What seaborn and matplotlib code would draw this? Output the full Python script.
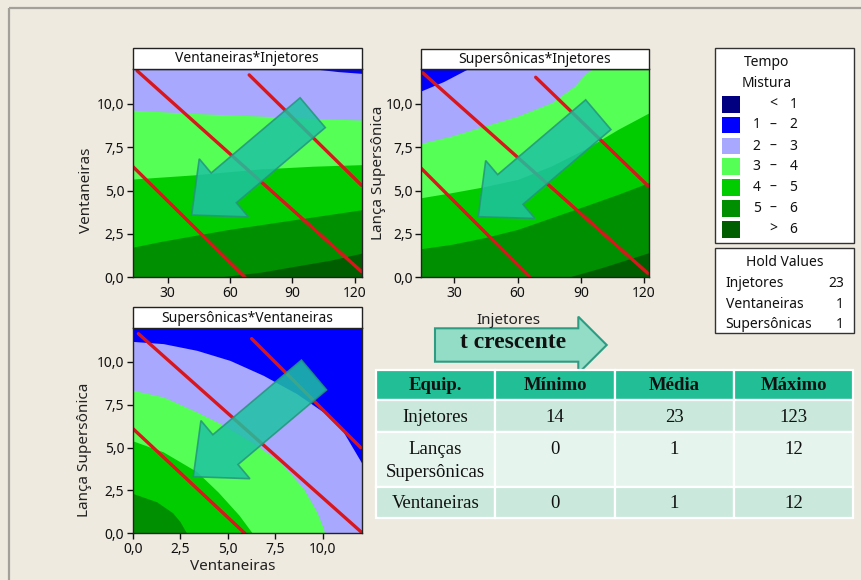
import numpy as np
import pandas as pd
import matplotlib
matplotlib.use("Agg")
import matplotlib.pyplot as plt
import seaborn as sns
from matplotlib.patches import Rectangle, FancyArrow
from matplotlib.ticker import FuncFormatter

# ---------------- data ----------------
legend_title = ["Tempo", "Mistura"]
legend_left = ["", "1", "2", "3", "4", "5", ""]
legend_mid = ["<", "–", "–", "–", "–", "–", ">"]
legend_right = ["1", "2", "3", "4", "5", "6", "6"]
band_colors = ["#000080", "#0000FF", "#A8A8FF", "#55FF55", "#00CC00", "#008F00", "#005E00"]

hold_names = ["Injetores", "Ventaneiras", "Supersônicas"]
hold_values = ["23", "1", "1"]

panel_titles = ["Ventaneiras*Injetores", "Supersônicas*Injetores", "Supersônicas*Ventaneiras"]

# panel 1 (Ventaneiras vs Injetores): boundaries (x, y); area below each gets band colour index
p1_lav_x = [13.1, 101.0, 112.0, 123.2]
p1_lav_y = [12.0, 12.0, 11.85, 11.75]
p1_lgr_x = [13.1, 42.5, 74.4, 100.0, 123.2]
p1_lgr_y = [9.63, 9.44, 9.29, 9.15, 9.06]
p1_grn_x = [13.1, 42.5, 74.4, 100.0, 123.2]
p1_grn_y = [5.66, 5.90, 6.24, 6.40, 6.49]
p1_dk_x = [13.1, 26.5, 58.5, 90.4, 123.2]
p1_dk_y = [1.73, 2.06, 2.74, 3.31, 3.89]
p1_dkst_x = [53.7, 75.0, 90.4, 108.0, 123.2]
p1_dkst_y = [0.0, 0.30, 0.62, 0.98, 1.39]

# panel 2 (Lança Supersônica vs Injetores)
p2_lav_x = [14.2, 25.0, 36.0, 122.2]
p2_lav_y = [10.75, 11.3, 12.0, 12.0]
p2_lgr_x = [14.2, 28.6, 44.4, 60.2, 76.0, 87.1, 91.9, 95.0, 122.2]
p2_lgr_y = [7.73, 8.15, 8.73, 9.31, 10.07, 11.04, 11.71, 12.0, 12.0]
p2_grn_x = [14.2, 28.6, 44.4, 60.2, 76.0, 91.9, 107.7, 122.2]
p2_grn_y = [4.59, 4.88, 5.23, 5.65, 6.42, 7.39, 8.54, 9.48]
p2_dk_x = [14.2, 28.6, 44.4, 60.2, 76.0, 91.9, 107.7, 122.2]
p2_dk_y = [1.65, 1.90, 2.29, 2.77, 3.44, 4.11, 4.79, 5.46]
p2_dkst_x = [83.9, 99.7, 122.2]
p2_dkst_y = [0.0, 0.55, 1.42]

# panel 3 (Lança Supersônica vs Ventaneiras)
p3_lav_x = [0.0, 1.61, 3.37, 5.12, 6.87, 8.63, 10.03, 11.08, 12.05]
p3_lav_y = [11.2, 11.07, 10.68, 10.09, 9.22, 8.15, 7.08, 5.92, 4.1]
p3_lgr_x = [0.0, 1.61, 3.37, 4.77, 6.3, 7.75, 8.98, 9.68, 10.03, 10.1]
p3_lgr_y = [8.35, 7.96, 7.08, 6.31, 5.3, 4.17, 2.62, 1.26, 0.29, 0.0]
p3_grn_x = [0.0, 1.61, 3.37, 4.5, 5.6, 6.3]
p3_grn_y = [5.4, 4.75, 3.6, 2.4, 1.05, 0.0]
p3_dk_x = [0.0, 1.26, 2.1, 2.49, 2.84]
p3_dk_y = [2.33, 1.84, 1.2, 0.68, 0.0]

# red constraint lines (x pair, y pair)
p1_lines_x = [[13.1, 67.2], [15.3, 123.2], [69.2, 123.2]]
p1_lines_y = [[6.4, 0.0], [11.9, 0.33], [11.66, 5.3]]
p2_lines_x = [[14.2, 65.9], [15.0, 121.8], [68.6, 122.2]]
p2_lines_y = [[6.3, 0.0], [11.8, 0.23], [11.54, 5.24]]
p3_lines_x = [[0.0, 5.9], [0.3, 12.0], [6.26, 12.0]]
p3_lines_y = [[6.12, 0.0], [11.65, 0.1], [11.36, 5.0]]

table_header = ["Equip.", "Mínimo", "Média", "Máximo"]
table_equip = ["Injetores", "Lanças\nSupersônicas", "Ventaneiras"]
table_min = ["14", "0", "0"]
table_mean = ["23", "1", "1"]
table_max = ["123", "12", "12"]

# ---------------- style ----------------
BG = "#EEEAE0"
RED = "#D9161C"
sns.set_theme(style="ticks")
plt.rcParams["font.family"] = ["Noto Sans", "DejaVu Sans"]
plt.rcParams["axes.linewidth"] = 1.0

fig = plt.figure(figsize=(8.61, 5.80), dpi=100, facecolor=BG)
W, H = 861.0, 580.0


def add_px_axes(x0, y0, x1, y1):
    return fig.add_axes([x0 / W, 1 - y1 / H, (x1 - x0) / W, (y1 - y0) / H])


comma = FuncFormatter(lambda v, p: f"{v:.1f}".replace(".", ","))


def draw_panel(ax, xlim, layers, lines_x, lines_y, xticks, xfmt):
    ax.set_xlim(*xlim)
    ax.set_ylim(0, 12)
    ax.fill_between([xlim[0], xlim[1]], 0, 12, color=band_colors[1], lw=0)
    for ci, xs, ys in layers:
        ax.fill_between(xs, 0, ys, color=band_colors[ci], lw=0)
    for xs, ys in zip(lines_x, lines_y):
        sns.lineplot(x=xs, y=ys, ax=ax, color=RED, lw=2.4, sort=False, estimator=None)
    ax.set_xticks(xticks)
    ax.set_yticks([0, 2.5, 5, 7.5, 10])
    ax.yaxis.set_major_formatter(comma)
    if xfmt is not None:
        ax.xaxis.set_major_formatter(xfmt)
    ax.tick_params(direction="out", length=4, width=1, colors="#111111", labelsize=10, pad=2)
    for s in ax.spines.values():
        s.set_color("#222222")
        s.set_visible(True)
    ax.set_xlabel("")
    ax.set_ylabel("")


ax1 = add_px_axes(132.5, 69.0, 361.5, 277.3)
draw_panel(ax1, (13.1, 123.2),
           [(2, p1_lav_x, p1_lav_y), (3, p1_lgr_x, p1_lgr_y), (4, p1_grn_x, p1_grn_y),
            (5, p1_dk_x, p1_dk_y), (6, p1_dkst_x, p1_dkst_y)],
           p1_lines_x, p1_lines_y, [30, 60, 90, 120], None)

ax2 = add_px_axes(421.0, 69.3, 648.7, 277.3)
draw_panel(ax2, (14.2, 122.2),
           [(2, p2_lav_x, p2_lav_y), (3, p2_lgr_x, p2_lgr_y), (4, p2_grn_x, p2_grn_y),
            (5, p2_dk_x, p2_dk_y), (6, p2_dkst_x, p2_dkst_y)],
           p2_lines_x, p2_lines_y, [30, 60, 90, 120], None)

ax3 = add_px_axes(132.7, 327.7, 361.7, 533.3)
draw_panel(ax3, (0.0, 12.05),
           [(2, p3_lav_x, p3_lav_y), (3, p3_lgr_x, p3_lgr_y), (4, p3_grn_x, p3_grn_y),
            (5, p3_dk_x, p3_dk_y)],
           p3_lines_x, p3_lines_y, [0, 2.5, 5, 7.5, 10], comma)

# ---------------- overlay (pixel coords) ----------------
ov = fig.add_axes([0, 0, 1, 1])
ov.set_xlim(0, W)
ov.set_ylim(H, 0)
ov.axis("off")
ov.patch.set_alpha(0)

# outer frame
ov.plot([9, 9], [8, H], color="#A3A09A", lw=1.6, solid_capstyle="butt")
ov.plot([9, W], [8, 8], color="#A3A09A", lw=1.6, solid_capstyle="butt")

# title boxes
for (x0, y0, x1, y1), t in zip([(132.5, 48.0, 361.5, 69.0), (421.0, 49.0, 648.7, 69.3),
                                 (132.7, 307.3, 361.7, 327.7)], panel_titles):
    ov.add_patch(Rectangle((x0, y0), x1 - x0, y1 - y0, fc="white", ec="#222222", lw=1.0))
    ov.text((x0 + x1) / 2, (y0 + y1) / 2 + 0.5, t, ha="center", va="center", fontsize=10, color="#111111")

# axis labels
ov.text(86.5, 190, "Ventaneiras", rotation=90, ha="center", va="center", fontsize=11, color="#222222")
ov.text(378, 172.5, "Lança Supersônica", rotation=90, ha="center", va="center", fontsize=11, color="#222222")
ov.text(85, 450, "Lança Supersônica", rotation=90, ha="center", va="center", fontsize=11, color="#222222")
ov.text(508, 320, "Injetores", ha="center", va="center", fontsize=11, color="#222222")
ov.text(233, 566, "Ventaneiras", ha="center", va="center", fontsize=11, color="#222222")

# big teal arrows
for (tx, ty, hx, hy) in [(312.7, 112.7, 191.7, 215.0), (598.3, 114.7, 478.3, 216.7),
                         (314.0, 375.0, 193.3, 476.7)]:
    ov.add_patch(FancyArrow(tx, ty, hx - tx, hy - ty, width=39, head_width=76, head_length=42,
                            length_includes_head=True, fc="#1EC2A2", ec="#24957C", lw=1.2, alpha=0.85))

# "t crescente" arrow
ov.add_patch(FancyArrow(435, 345, 171.7, 0, width=33.4, head_width=56.7, head_length=28.4,
                        length_includes_head=True, fc="#93DDC7", ec="#2E9C82", lw=1.5))
ov.text(513, 343, "t crescente", ha="center", va="center", fontsize=17, fontweight="bold",
        family="Liberation Serif", color="#111111")

# legend box
ov.add_patch(Rectangle((715, 48.3), 139, 194.4, fc="white", ec="#333333", lw=1.0))
ov.text(767, 62.7, legend_title[0], ha="center", va="center", fontsize=10, color="#111111")
ov.text(767, 83.3, legend_title[1], ha="center", va="center", fontsize=10, color="#111111")
row_y = [104.3, 125.0, 146.0, 166.7, 187.7, 208.3, 229.3]
for i, y in enumerate(row_y):
    ov.add_patch(Rectangle((721.7, y - 8.3), 18.3, 16.6, fc=band_colors[i], ec="none"))
    ov.text(756.7, y, legend_left[i], ha="center", va="center", fontsize=10, color="#111111")
    ov.text(773.3, y, legend_mid[i], ha="center", va="center", fontsize=10, color="#111111")
    ov.text(793.3, y, legend_right[i], ha="center", va="center", fontsize=10, color="#111111")

# hold values box
ov.add_patch(Rectangle((715, 248.3), 139, 85, fc="white", ec="#333333", lw=1.0))
ov.text(785, 262.7, "Hold Values", ha="center", va="center", fontsize=10, color="#111111")
for name, val, y in zip(hold_names, hold_values, [283.3, 304.0, 324.0]):
    ov.text(725.5, y, name, ha="left", va="center", fontsize=10, color="#111111")
    ov.text(844, y, val, ha="right", va="center", fontsize=10, color="#111111")

# table
col_x = [376, 495, 615, 734, 853]
row_b = [370, 400, 431.7, 486.7, 518.3]
row_colors = ["#22BE96", "#CAE9DC", "#E6F4EE", "#CAE9DC"]
for r in range(4):
    for c in range(4):
        ov.add_patch(Rectangle((col_x[c], row_b[r]), col_x[c + 1] - col_x[c], row_b[r + 1] - row_b[r],
                               fc=row_colors[r], ec="white", lw=1.6))
cx = [(col_x[c] + col_x[c + 1]) / 2 for c in range(4)]
for c, t in enumerate(table_header):
    ov.text(cx[c], 385.5, t, ha="center", va="center", fontsize=13.5, fontweight="bold",
            family="Liberation Serif", color="#111111")
body_y = [417, 449.5, 503]
for r in range(3):
    vals = [table_min[r], table_mean[r], table_max[r]]
    if "\n" in table_equip[r]:
        a, b = table_equip[r].split("\n")
        ov.text(cx[0], 449.5, a, ha="center", va="center", fontsize=13.5, family="Liberation Serif", color="#111111")
        ov.text(cx[0], 472.5, b, ha="center", va="center", fontsize=13.5, family="Liberation Serif", color="#111111")
    else:
        ov.text(cx[0], body_y[r], table_equip[r], ha="center", va="center", fontsize=13.5,
                family="Liberation Serif", color="#111111")
    for c, v in enumerate(vals):
        ov.text(cx[c + 1], body_y[r], v, ha="center", va="center", fontsize=13.5,
                family="Liberation Serif", color="#111111")

fig.savefig("out.png", dpi=100, facecolor=BG)
